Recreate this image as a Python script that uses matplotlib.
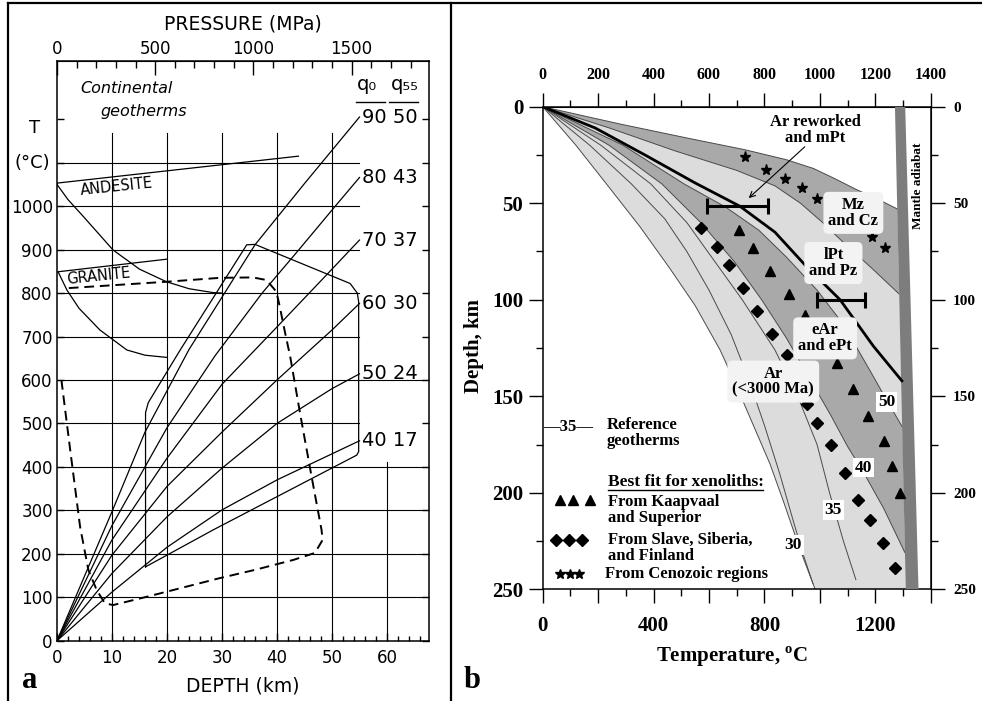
import matplotlib.pyplot as plt
from matplotlib.lines import Line2D
from matplotlib.ticker import MultipleLocator

plt.rcParams['mathtext.fontset'] = 'custom'
plt.rcParams['mathtext.rm'] = 'Liberation Serif:bold'

# ---------------- panel a : continental geotherms ----------------
q0_values = [90, 80, 70, 60, 50, 40]
q55_values = [50, 43, 37, 30, 24, 17]

depth_q90 = [0, 10, 16, 24, 36, 45, 55]
temp_q90 = [0, 297, 480, 670, 911, 1052, 1205]
depth_q80 = [0, 10, 20, 28.7, 37.3, 44, 50.6, 55]
temp_q80 = [0, 265, 490, 655, 800, 900, 1000, 1066]
depth_q70 = [0, 10, 20, 30, 40, 50, 55]
temp_q70 = [0, 232, 420, 590, 722, 855, 922]
depth_q60 = [0, 10, 20, 30, 40, 50, 55]
temp_q60 = [0, 197, 355, 480, 600, 715, 776]
depth_q50 = [0, 10, 20, 30, 40, 50, 55]
temp_q50 = [0, 155, 285, 397, 500, 580, 614]
depth_q40 = [0, 10, 20, 30, 40, 50, 55]
temp_q40 = [0, 112, 215, 301, 370, 430, 460]

# solid outline
outline_depth = [16.1, 16.1, 16.6, 22.4, 34.5, 36.0, 53.3, 54.6, 54.85, 54.85, 54.5, 28.4, 16.1]
outline_temp = [170, 525, 548, 669, 911, 912, 822, 800, 780, 435, 427, 255, 170]

# dashed outline
dash_depth = [0.8, 2.4, 4.2, 5.7, 7.2, 8.7, 10.2, 16.3, 29.6, 36, 43, 46.9, 48.3, 48.1,
              46.3, 44.2, 42.4, 41.5, 40.5, 39.9, 38.1, 35.6, 29.6, 19.9, 1.6]
dash_temp = [600, 439, 262, 163, 117, 86, 82, 101, 144, 163, 186, 202, 232, 255,
             377, 523, 654, 707, 769, 803, 830, 836, 835, 826, 811]

# andesite and granite
andesite_top_depth = [0, 43.9]
andesite_top_temp = [1053, 1115]
andesite_depth = [0, 2, 4.8, 10.2, 15, 19.9, 24, 28.4, 30]
andesite_temp = [1050, 1015, 976, 899, 855, 826, 810, 801, 800]
granite_top_depth = [0.2, 20]
granite_top_temp = [849, 878]
granite_depth = [0.2, 1.8, 4, 7.8, 12.7, 16, 19.9]
granite_temp = [849, 807, 765, 715, 669, 657, 652]

depth_ticks = [0, 10, 20, 30, 40, 50, 60]
temp_ticks_a = [0, 100, 200, 300, 400, 500, 600, 700, 800, 900, 1000, 1100, 1200]
pressure_ticks = [0, 500, 1000, 1500]
mpa_per_km = 28.0

# ---------------- panel b : cratonic geotherms ----------------
edge_T = [0, 120, 230, 350, 455, 550, 640, 700, 760, 820, 870, 925, 983]
edge_z = [0, 20, 40, 62, 83, 103, 126, 145, 165, 185, 205, 228, 250]
g30_T = [0, 170, 320, 440, 520, 600, 680, 740, 800, 855, 905, 940, 975]
g30_z = [0, 20, 40, 58, 75, 95, 118, 140, 165, 190, 215, 232, 247]
g35_T = [0, 210, 390, 520, 610, 720, 838, 920, 990, 1035, 1085, 1130]
g35_z = [0, 20, 40, 60, 78, 100, 126, 150, 175, 200, 225, 245]
g40_T = [0, 240, 430, 570, 690, 790, 880, 960, 1040, 1100, 1160, 1230, 1307]
g40_z = [0, 20, 40, 60, 80, 100, 120, 140, 160, 176, 190, 208, 231]
g50_T = [0, 290, 510, 660, 780, 880, 990, 1070, 1130, 1190, 1245, 1298]
g50_z = [0, 20, 40, 52, 64, 78, 95, 110, 124, 139, 153, 166]
mz_top_T = [0, 280, 530, 730, 880, 977, 1050, 1133, 1210, 1280]
mz_top_z = [0, 9, 16.5, 22.3, 27.5, 32, 37, 43, 48, 53]
mz_bot_T = [0, 240, 480, 700, 838, 930, 1010, 1090, 1190, 1286]
mz_bot_z = [0, 11, 23, 33, 41, 50, 60, 71, 84, 97]
mpt_T = [0, 189, 369, 550, 712, 838, 953, 1073, 1193, 1296]
mpt_z = [0, 11, 25, 39.5, 51.6, 65, 83, 100, 124, 142]

adiabat_left_T = [1271, 1310]
adiabat_right_T = [1308, 1356]
adiabat_z = [0, 250]

bar_T = [712, 1073]
bar_z = [51.5, 100]
bar_lo = [592, 989]
bar_hi = [814, 1163]

tri_T = [710, 760, 820, 889, 948, 1061, 1121, 1175, 1232, 1262, 1289]
tri_z = [64, 73, 85, 97, 108, 133, 146, 160, 173, 186, 200]
dia_T = [572, 628, 674, 724, 772, 826, 880, 955, 989, 1039, 1090, 1139, 1181, 1227, 1271]
dia_z = [63, 72.5, 82, 94, 106, 117.5, 128.5, 154, 164, 175, 190, 203.5, 214, 226, 239]
star_T = [730, 806, 874, 937, 989, 1187, 1235]
star_z = [26, 33, 37.5, 42.3, 47.6, 67.5, 73.2]

contour_text = ['30', '35', '40', '50']
contour_T = [904, 1049, 1157, 1241]
contour_z = [227, 209, 187, 153]

period_text = ['Mz\nand Cz', 'lPt\nand Pz', 'eAr\nand ePt', 'Ar\n(<3000 Ma)']
period_T = [1121, 1049, 1019, 832]
period_z = [55, 81, 120, 142.4]

W, H = 982, 701


def place(left, top, right, bottom):
    # pixel box of the reference -> figure fraction
    return [left / W, 1 - bottom / H, (right - left) / W, (bottom - top) / H]


sans = dict(family='DejaVu Sans', weight='normal')
serif = dict(family='Liberation Serif', weight='bold')

fig = plt.figure(figsize=(W / 100, H / 100), dpi=100)

# ======================= panel a =======================
ax = fig.add_axes(place(57, 61, 429, 640.7))
ax.set_xlim(0, 67.64)
ax.set_ylim(0, 1334)
for s in ax.spines.values():
    s.set_linewidth(1.1)

# partial grid of the old drawing
for t in [100, 200, 300, 400, 600]:
    ax.axhline(t, color='k', lw=0.8)
for t in [500, 700, 800, 900, 1000, 1100]:
    ax.axhline(t, xmax=55 / 67.64, color='k', lw=0.8)
for d in [10, 20, 30, 40, 50]:
    ax.axvline(d, ymax=1168 / 1334, color='k', lw=0.8)
ax.axvline(60, ymax=412 / 1334, color='k', lw=0.8)

geo_depths = [depth_q90, depth_q80, depth_q70, depth_q60, depth_q50, depth_q40]
geo_temps = [temp_q90, temp_q80, temp_q70, temp_q60, temp_q50, temp_q40]
for dep, tem, q0, q55 in zip(geo_depths, geo_temps, q0_values, q55_values):
    ax.plot(dep, tem, color='k', lw=0.9)
    ax.text(55.4, tem[-1], f'{q0} {q55}', fontsize=14, va='center', ha='left', **sans)

ax.plot(outline_depth, outline_temp, color='k', lw=0.9)
ax.plot(dash_depth, dash_temp, color='k', lw=1.4, dashes=(5, 3))
ax.plot(andesite_top_depth, andesite_top_temp, color='k', lw=0.9)
ax.plot(andesite_depth, andesite_temp, color='k', lw=0.9)
ax.plot(granite_top_depth, granite_top_temp, color='k', lw=0.9)
ax.plot(granite_depth, granite_temp, color='k', lw=0.9)

ax.text(10.8, 1045, 'ANDESITE', fontsize=10.5, rotation=6, ha='center', va='center', **sans)
ax.text(7.5, 838, 'GRANITE', fontsize=10.5, rotation=6, ha='center', va='center', **sans)
ax.text(12.7, 1271, 'Continental', fontsize=11.5, style='italic', ha='center', va='center', **sans)
ax.text(15.7, 1217, 'geotherms', fontsize=11.5, style='italic', ha='center', va='center', **sans)
ax.text(56.3, 1279, 'q\u2080', fontsize=14, ha='center', va='center', **sans)
ax.text(63.3, 1279, 'q\u2085\u2085', fontsize=14, ha='center', va='center', **sans)
ax.plot([54.3, 59.6], [1240, 1240], color='k', lw=1)
ax.plot([60.3, 65.6], [1240, 1240], color='k', lw=1)
ax.text(-4.0, 1179, 'T', fontsize=13, ha='center', va='center', clip_on=False, **sans)
ax.text(-4.4, 1099, '(\u00b0C)', fontsize=13, ha='center', va='center', clip_on=False, **sans)

ax.set_xticks(depth_ticks, labels=[str(v) for v in depth_ticks], fontsize=12, **sans)
ax.xaxis.set_minor_locator(MultipleLocator(2))
ax.set_yticks(temp_ticks_a, labels=[str(v) for v in temp_ticks_a[:11]] + ['', ''], fontsize=12, **sans)
ax.tick_params(axis='x', which='major', direction='in', length=6, width=1, pad=6)
ax.tick_params(axis='x', which='minor', direction='in', length=3.5, width=1)
ax.tick_params(axis='y', direction='in', length=5, width=1, pad=3, right=True)
ax.set_xlabel('DEPTH (km)', fontsize=13.5, labelpad=7, **sans)

top = ax.secondary_xaxis('top', functions=(lambda d: d * mpa_per_km, lambda p: p / mpa_per_km))
top.set_xticks(pressure_ticks, labels=[str(v) for v in pressure_ticks], fontsize=12, **sans)
top.xaxis.set_minor_locator(MultipleLocator(100))
top.tick_params(which='major', direction='in', length=10, width=1, pad=2)
top.tick_params(which='minor', direction='in', length=5, width=1)
top.set_xlabel('PRESSURE (MPa)', fontsize=13.5, labelpad=8, **sans)

# ======================= panel b =======================
bx = fig.add_axes(place(542.7, 106.7, 930.7, 589.3))
bx.set_xlim(0, 1400)
bx.set_ylim(250, 0)
for s in bx.spines.values():
    s.set_linewidth(1.1)

light = '#dcdcdc'
mid = '#a9a9a9'
bx.fill(edge_T + [adiabat_left_T[1]] + mz_top_T[::-1],
        edge_z + [adiabat_z[1]] + mz_top_z[::-1], color=light, lw=0, zorder=1)
bx.fill(mz_top_T + mz_bot_T[::-1], mz_top_z + mz_bot_z[::-1], color=mid, lw=0, zorder=1)
bx.fill(g40_T + g50_T[::-1], g40_z + g50_z[::-1], color=mid, lw=0, zorder=1)

for tt, zz in [(edge_T, edge_z), (g30_T, g30_z), (g35_T, g35_z), (g40_T, g40_z),
               (g50_T, g50_z), (mz_top_T, mz_top_z), (mz_bot_T, mz_bot_z)]:
    bx.plot(tt, zz, color='#4a4a4a', lw=0.7, zorder=2)

bx.fill(adiabat_left_T + adiabat_right_T[::-1], adiabat_z + adiabat_z[::-1],
        color='#7d7d7d', lw=0, zorder=3)
bx.plot(mpt_T, mpt_z, color='k', lw=2.0, zorder=4)

bx.errorbar(bar_T, bar_z,
            xerr=[[c - lo for c, lo in zip(bar_T, bar_lo)], [hi - c for c, hi in zip(bar_T, bar_hi)]],
            fmt='none', ecolor='k', elinewidth=2.2, capsize=6, capthick=2.2, zorder=5)

bx.plot(tri_T, tri_z, '^', color='k', ms=7, zorder=5)
bx.plot(dia_T, dia_z, 'D', color='k', ms=6, zorder=5)
bx.plot(star_T, star_z, '*', color='k', ms=8, zorder=5)

for txt, tt, zz in zip(contour_text, contour_T, contour_z):
    bx.text(tt, zz, txt, fontsize=12.5, ha='center', va='center', zorder=6,
            bbox=dict(boxstyle='square,pad=0.1', fc='white', ec='none'), **serif)
for txt, tt, zz in zip(period_text, period_T, period_z):
    bx.text(tt, zz, txt, fontsize=12, ha='center', va='center', linespacing=1.0, zorder=6,
            bbox=dict(boxstyle='round,pad=0.3', fc='#f3f3f3', ec='none'), **serif)

bx.text(983, 12, 'Ar reworked\nand mPt', fontsize=12, ha='center', va='center',
        linespacing=1.0, zorder=6, **serif)
bx.annotate('', xy=(736, 48.3), xytext=(953, 19.8), zorder=6,
            arrowprops=dict(arrowstyle='->', lw=0.8, color='k'))
bx.text(1355, 41, 'Mantle adiabat', fontsize=9.5, rotation=90, ha='center', va='center', **serif)

# legend
bx.text(93, 166, '\u201435\u2014', fontsize=12, ha='center', va='center', **serif)
bx.text(231, 169, 'Reference\ngeotherms', fontsize=12, ha='left', va='center', linespacing=1.0, **serif)
bx.text(237, 194.5, 'Best fit for xenoliths:', fontsize=12.5, ha='left', va='center', **serif)
bx.plot([237, 796], [198.8, 198.8], color='k', lw=1)
bx.plot([62, 110, 171], [203.6, 203.6, 203.6], '^', color='k', ms=7)
bx.text(237, 209, 'From Kaapvaal\nand Superior', fontsize=12, ha='left', va='center', linespacing=1.0, **serif)
bx.plot([48, 95, 142], [224.3, 224.3, 224.3], 'D', color='k', ms=6)
bx.text(237, 228.5, 'From Slave, Siberia,\nand Finland', fontsize=12, ha='left', va='center', linespacing=1.0, **serif)
bx.plot([62, 98, 132], [242, 242, 242], '*', color='k', ms=7)
bx.text(225, 242, 'From Cenozoic regions', fontsize=12, ha='left', va='center', **serif)

temp_ticks_b = list(range(0, 1401, 200))
depth_ticks_b = list(range(0, 251, 50))
bx.set_xticks(temp_ticks_b, labels=[str(v) if v % 400 == 0 else '' for v in temp_ticks_b], fontsize=15, **serif)
bx.xaxis.set_minor_locator(MultipleLocator(100))
bx.set_yticks(depth_ticks_b, labels=[str(v) for v in depth_ticks_b], fontsize=15, **serif)
bx.yaxis.set_minor_locator(MultipleLocator(25))
bx.tick_params(axis='x', which='major', direction='out', length=10, width=1, pad=9.5)
bx.tick_params(axis='y', which='major', direction='out', length=10, width=1, pad=4)
bx.tick_params(which='minor', direction='out', length=5, width=1)

btop = bx.secondary_xaxis('top')
btop.set_xticks(temp_ticks_b, labels=[str(v) for v in temp_ticks_b], fontsize=11.5, **serif)
btop.xaxis.set_minor_locator(MultipleLocator(100))
btop.tick_params(which='major', direction='out', length=10, width=1, pad=7)
btop.tick_params(which='minor', direction='out', length=5, width=1)

bright = bx.secondary_yaxis('right')
bright.set_yticks(depth_ticks_b, labels=[str(v) for v in depth_ticks_b], fontsize=11, **serif)
bright.yaxis.set_minor_locator(MultipleLocator(25))
bright.tick_params(which='major', direction='out', length=10, width=1, pad=6)
bright.tick_params(which='minor', direction='out', length=5, width=1)

fig.text(474 / W, 1 - 346 / H, 'Depth, km', rotation=90, fontsize=15, ha='center', va='center', **serif)
fig.text(731.7 / W, 1 - 656.7 / H, r'Temperature, $^{\mathrm{o}}$C', fontsize=15, ha='center', va='center', **serif)

# panel letters and frame
fig.text(30 / W, 1 - 681 / H, 'a', fontsize=22, ha='center', va='center', **serif)
fig.text(471.7 / W, 1 - 681 / H, 'b', fontsize=22, ha='center', va='center', **serif)
fig.add_artist(Line2D([7.5 / W, 7.5 / W], [0, 1 - 3 / H], color='k', lw=1.6))
fig.add_artist(Line2D([7.5 / W, 1], [1 - 3 / H, 1 - 3 / H], color='k', lw=1.6))
fig.add_artist(Line2D([451 / W, 451 / W], [0, 1 - 3 / H], color='k', lw=1.6))

fig.savefig('out.png', dpi=100)
